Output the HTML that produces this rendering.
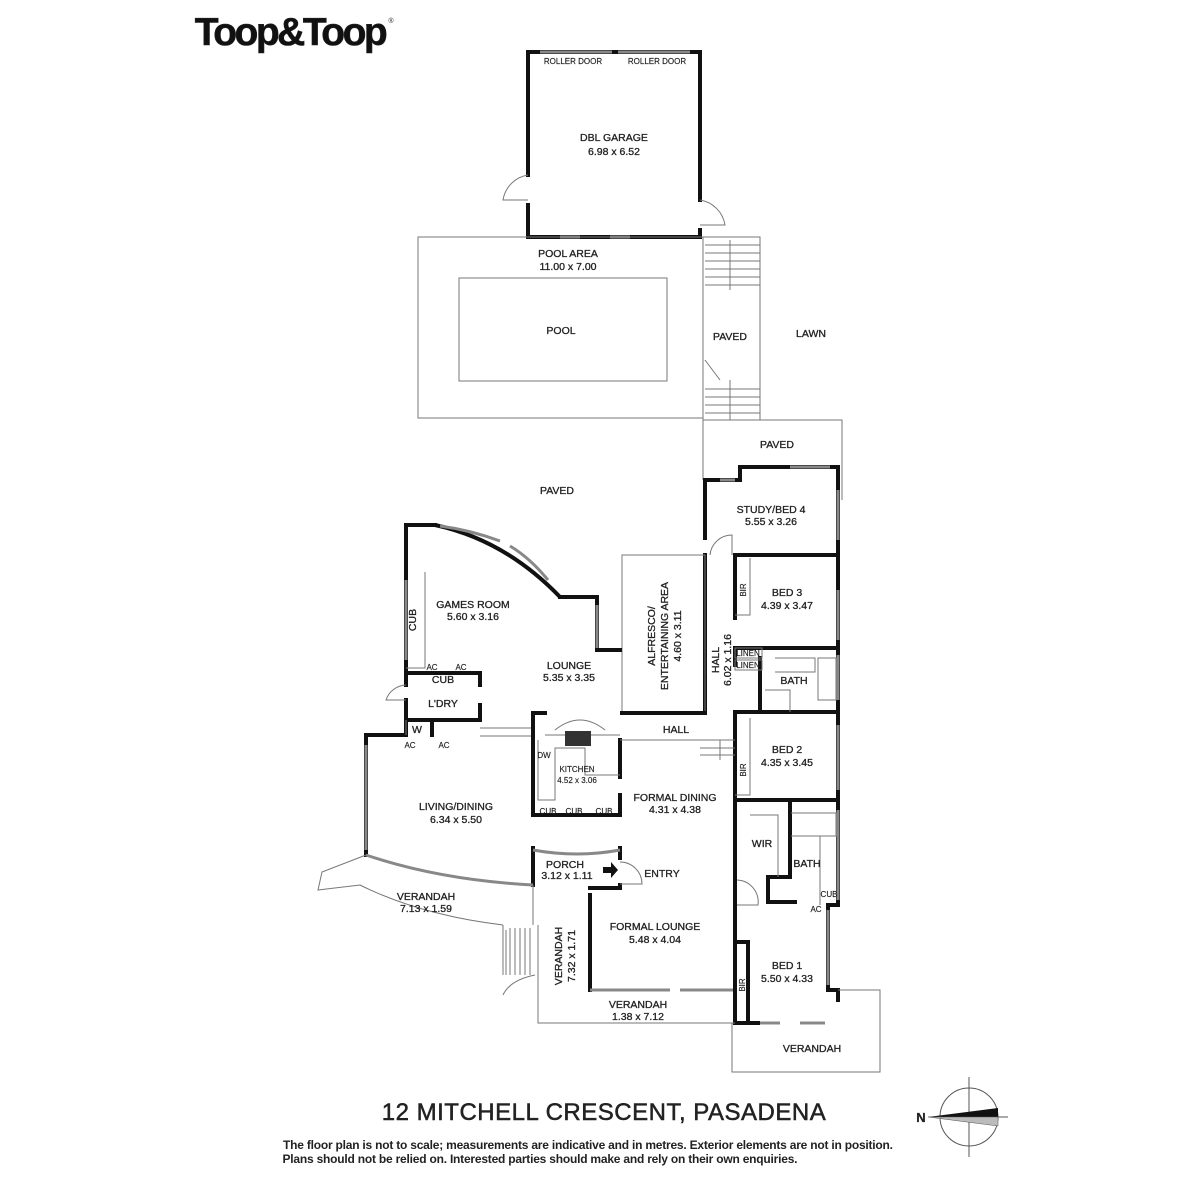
<!DOCTYPE html>
<html><head><meta charset="utf-8"><style>
html,body{margin:0;padding:0;background:#fff;width:1200px;height:1200px;overflow:hidden}
svg{display:block}
text{font-family:"Liberation Sans",sans-serif;fill:#222;stroke:#222;stroke-width:0.3;font-size:10.5px;text-anchor:middle}
.w{stroke:#111;stroke-width:4;fill:none;stroke-linecap:square}
.t{stroke:#777;stroke-width:1;fill:none}
.g{stroke:#888;stroke-width:3;fill:none}
.s{font-size:8px;stroke-width:0.15}
</style></head><body>
<svg width="1200" height="1200" viewBox="0 0 1200 1200">
<!-- logo -->
<text x="290" y="45" style="font-size:39px;font-weight:bold;letter-spacing:-2.5px;fill:#111;stroke-width:0.6">Toop&amp;Toop</text>
<text x="391" y="23" style="font-size:7px;stroke-width:0">®</text>

<!-- garage -->
<path class="w" d="M528 175 V52 H700 V200 M700 230 V237 H528 V205"/>
<path class="g" d="M540 52 H612 M618 52 H690 M560 237 H580 M610 237 H630"/>
<path class="t" d="M528 175 A30 30 0 0 0 503 200 H528 M700 200 A30 30 0 0 1 725 225 H700"/>
<text x="573" y="64" class="s">ROLLER DOOR</text><text x="657" y="64" class="s">ROLLER DOOR</text>
<text x="614" y="141">DBL GARAGE</text><text x="614" y="155">6.98 x 6.52</text>

<!-- pool area -->
<path class="t" d="M418 237 H703 V418 H418 Z M459 278 H667 V381 H459 Z"/>
<text x="568" y="257">POOL AREA</text><text x="568" y="270">11.00 x 7.00</text>
<text x="561" y="334">POOL</text>
<path class="t" d="M703 237 H760 V420 M705 245 H760 M705 253 H760 M705 261 H760 M705 269 H760 M705 277 H760 M705 285 H760 M705 389 H760 M705 397 H760 M705 405 H760 M705 413 H760 M730 240 V290 M730 380 V420 M705 360 L720 380"/>
<text x="730" y="340">PAVED</text><text x="811" y="337">LAWN</text>
<path class="t" d="M703 418 V480 M703 420 H842 V500"/>
<text x="777" y="448">PAVED</text>
<text x="557" y="494">PAVED</text>

<!-- east wing -->
<path class="w" d="M705 480 H740 V467 H838 V810 M705 480 V538 M705 555 V713"/>
<path class="g" d="M720 480 H735 M790 467 H830 M838 490 V540 M838 590 V640 M838 655 V700 M838 725 V790"/>
<path class="w" d="M735 555 H838 M735 555 V618 M735 648 H838 M735 648 V665 M760 658 V712 M735 712 H838 M735 712 V800 M735 800 H838"/>
<path class="t" d="M710 555 A22 22 0 0 1 732 535 V555 M750 558 V615 H735 M750 718 V795 H735"/>
<text x="771" y="513">STUDY/BED 4</text><text x="771" y="525">5.55 x 3.26</text>
<text x="787" y="596">BED 3</text><text x="787" y="609">4.39 x 3.47</text>
<text x="746" y="590" class="s" transform="rotate(-90 746 590)">BIR</text>
<text x="719" y="660" transform="rotate(-90 719 660)">HALL</text>
<text x="731" y="660" transform="rotate(-90 731 660)">6.02 x 1.16</text>
<rect x="735" y="648" width="27" height="10" class="t"/><rect x="735" y="660" width="27" height="10" class="t"/>
<text x="748" y="656" class="s">LINEN</text><text x="748" y="668" class="s">LINEN</text>
<text x="794" y="684">BATH</text>
<path class="t" d="M818 658 H836 V700 H818 Z M775 658 H815 V672 H775 M765 690 H790 V712"/>
<text x="787" y="753">BED 2</text><text x="787" y="766">4.35 x 3.45</text>
<text x="746" y="770" class="s" transform="rotate(-90 746 770)">BIR</text>

<!-- master -->
<path class="w" d="M735 800 V880 M735 900 V1023 M790 800 V877 H768 V902 H795 M768 902 V877 M838 800 V905 M828 905 H838 M828 905 V990 H838 V1000 M735 1023 H758 M735 942 H748 V1023"/>
<path class="g" d="M838 810 V900 M828 910 V985 M760 1023 H780 M800 1023 H825"/>
<path class="t" d="M750 815 H778 V877 M791 813 H836 V836 H791 M820 836 V905 M737 880 A22 22 0 0 1 758 905 H737"/>
<text x="762" y="847">WIR</text><text x="807" y="867">BATH</text>
<text x="829" y="897" class="s">CUB</text><text x="816" y="912" class="s">AC</text>
<text x="787" y="969">BED 1</text><text x="787" y="982">5.50 x 4.33</text>
<text x="745" y="985" class="s" transform="rotate(-90 745 985)">BIR</text>
<path class="t" d="M732 1023 V1072 H880 V990 H838"/>
<text x="812" y="1052">VERANDAH</text>

<!-- alfresco -->
<path class="t" d="M622 555 H705 V713 H622 Z"/>
<path class="w" d="M622 713 H705"/>
<text x="655" y="636" transform="rotate(-90 655 636)">ALFRESCO/</text>
<text x="668" y="636" transform="rotate(-90 668 636)">ENTERTAINING AREA</text>
<text x="681" y="636" transform="rotate(-90 681 636)">4.60 x 3.11</text>

<!-- games room -->
<path class="w" d="M406 670 V525 H435 M406 673 H480 V685 M406 673 V685 M406 700 V735 H366 V855 M406 720 H480 V705 M432 720 V735"/>
<path d="M435 525 Q505 540 560 597" fill="none" stroke="#111" stroke-width="4"/>
<path d="M440 526 Q470 530 500 541" fill="none" stroke="#888" stroke-width="3"/>
<path d="M510 546 Q530 558 548 580" fill="none" stroke="#888" stroke-width="3"/>
<path class="w" d="M560 597 H597 V650 H620"/>
<path class="g" d="M406 580 V660 M366 745 V850 M597 605 V648"/>
<path class="t" d="M425 572 V668 H406 M406 685 A22 22 0 0 0 386 700 H406 M406 720 V735 M480 728 H533 M480 736 H533"/>
<text x="416" y="620" transform="rotate(-90 416 620)">CUB</text>
<text x="473" y="608">GAMES ROOM</text><text x="473" y="620">5.60 x 3.16</text>
<text x="569" y="669">LOUNGE</text><text x="569" y="681">5.35 x 3.35</text>
<text x="443" y="683">CUB</text><text x="443" y="707">L'DRY</text>
<text x="417" y="733">W</text>
<text x="432" y="670" class="s">AC</text><text x="461" y="670" class="s">AC</text>
<text x="410" y="748" class="s">AC</text><text x="444" y="748" class="s">AC</text>
<text x="456" y="810">LIVING/DINING</text><text x="456" y="823">6.34 x 5.50</text>

<!-- kitchen -->
<path class="w" d="M533 713 V815 H620 V795 M620 740 V777 M533 713 H545"/>
<path class="t" d="M545 735 H620 M555 730 Q580 710 605 730 M538 740 V800 H555 V748 H585 V775 H620"/>
<rect x="565" y="731" width="26" height="15" fill="#333"/>
<text x="544" y="758" class="s">DW</text>
<text x="577" y="772" class="s">KITCHEN</text><text x="577" y="783" class="s">4.52 x 3.06</text>
<text x="548" y="814" class="s">CUB</text><text x="574" y="814" class="s">CUB</text><text x="604" y="814" class="s">CUB</text>
<path class="t" d="M620 740 H735 M720 740 V760 M700 748 H735 M700 755 H735"/>
<text x="676" y="733">HALL</text>
<text x="675" y="801">FORMAL DINING</text><text x="675" y="813">4.31 x 4.38</text>

<!-- porch / lounge -->
<path class="w" d="M533 848 V885 M620 848 V858 M590 895 V990 M590 888 H620 M620 885 V888 M735 880 V1023"/>
<path d="M533 850 Q577 858 620 850" fill="none" stroke="#888" stroke-width="3"/>
<path d="M366 855 Q440 880 533 885" fill="none" stroke="#888" stroke-width="3"/>
<path class="g" d="M590 990 H670 M680 990 H733"/>
<path class="t" d="M620 862 A22 22 0 0 1 642 884 H620 M366 855 L322 872 L318 890 L360 885 Q420 915 503 925 M533 885 V925"/>
<path d="M603 867 H611 V862 L618 870 L611 878 V873 H603 Z" fill="#111"/>
<text x="565" y="868">PORCH</text><text x="567" y="879">3.12 x 1.11</text>
<text x="662" y="877">ENTRY</text>
<text x="426" y="900">VERANDAH</text><text x="426" y="912">7.13 x 1.59</text>
<text x="655" y="930">FORMAL LOUNGE</text><text x="655" y="943">5.48 x 4.04</text>
<text x="562" y="956" transform="rotate(-90 562 956)">VERANDAH</text>
<text x="575" y="956" transform="rotate(-90 575 956)">7.32 x 1.71</text>
<path class="t" d="M538 925 V1023 H735 M503 925 V975 M506 930 V975 M510 928 V975 M515 928 V975 M520 928 V975 M525 928 V975 M530 928 V975 M503 995 Q510 980 535 975"/>
<text x="638" y="1008">VERANDAH</text><text x="638" y="1020">1.38 x 7.12</text>

<!-- compass -->
<circle cx="969" cy="1117" r="29" fill="none" stroke="#555" stroke-width="1"/>
<path d="M969 1077 V1157 M930 1117 H1008" stroke="#555" stroke-width="1"/>
<path d="M928 1117 L998 1108 V1117 Z" fill="#111"/>
<path d="M928 1117 L998 1117 V1126 Z" fill="#bbb" stroke="#555" stroke-width="0.5"/>
<text x="921" y="1122" style="font-size:13px;font-weight:bold">N</text>

<!-- footer -->
<text x="604" y="1120" style="font-size:24px;letter-spacing:0.5px;stroke-width:0.5">12 MITCHELL CRESCENT, PASADENA</text>
<text x="588" y="1149" style="font-size:12px;font-weight:bold;stroke-width:0;fill:#222" textLength="610">The floor plan is not to scale; measurements are indicative and in metres. Exterior elements are not in position.</text>
<text x="540" y="1163" style="font-size:12px;font-weight:bold;stroke-width:0;fill:#222" textLength="515">Plans should not be relied on. Interested parties should make and rely on their own enquiries.</text>
</svg>
</body></html>
